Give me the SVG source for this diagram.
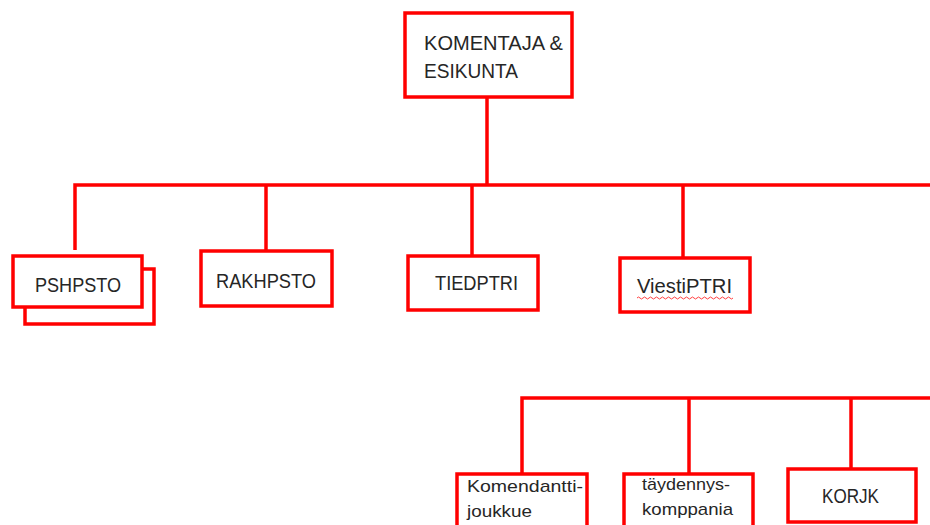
<svg xmlns="http://www.w3.org/2000/svg" width="930" height="525" viewBox="0 0 930 525">
  <style>
    .box { fill: #ffffff; stroke: #ff0000; stroke-width: 3.5; }
    .link { fill: none; stroke: #ff0000; stroke-width: 3.5; }
    .lbl { font-family: "Liberation Sans", Arial, sans-serif; fill: #262626; }
    .big { font-size: 21px; }
    .mid { font-size: 19.5px; }
    .small { font-size: 17px; }
    .squiggle { fill: none; stroke: #ff4040; stroke-width: 1; }
  </style>
  <rect width="930" height="525" fill="#ffffff"/>

  <!-- connectors -->
  <g id="connectors">
    <path class="link" d="M487 97 V184"/>
    <path class="link" d="M75 250 V185 H930"/>
    <path class="link" d="M266 184 V251"/>
    <path class="link" d="M472 184 V256"/>
    <path class="link" d="M683 184 V258"/>
    <path class="link" d="M522 474 V398 H930"/>
    <path class="link" d="M689 398 V474"/>
    <path class="link" d="M851 398 V469"/>
  </g>

  <g id="komentaja">
    <rect class="box" x="405" y="13" width="167" height="84"/>
    <text class="lbl big" x="424" y="50" textLength="139" lengthAdjust="spacingAndGlyphs">KOMENTAJA &amp;</text>
    <text class="lbl big" x="424" y="78" textLength="94" lengthAdjust="spacingAndGlyphs">ESIKUNTA</text>
  </g>

  <g id="pshpsto">
    <rect class="box" x="25" y="269" width="129" height="55"/>
    <rect class="box" x="13" y="256" width="129" height="51"/>
    <text class="lbl mid" x="35" y="292" textLength="86" lengthAdjust="spacingAndGlyphs">PSHPSTO</text>
  </g>

  <g id="rakhpsto">
    <rect class="box" x="201" y="251" width="131" height="55"/>
    <text class="lbl mid" x="216" y="288" textLength="100" lengthAdjust="spacingAndGlyphs">RAKHPSTO</text>
  </g>

  <g id="tiedptri">
    <rect class="box" x="408" y="256" width="130" height="54"/>
    <text class="lbl mid" x="435" y="290" textLength="83" lengthAdjust="spacingAndGlyphs">TIEDPTRI</text>
  </g>

  <g id="viestiptri">
    <rect class="box" x="620" y="258" width="130" height="54"/>
    <text class="lbl mid" x="637" y="293" textLength="95" lengthAdjust="spacingAndGlyphs">ViestiPTRI</text>
    <path class="squiggle" d="M637 298 q1.5 -2 3 0 t3 0 t3 0 t3 0 t3 0 t3 0 t3 0 t3 0 t3 0 t3 0 t3 0 t3 0 t3 0 t3 0 t3 0 t3 0 t3 0 t3 0 t3 0 t3 0 t3 0 t3 0 t3 0 t3 0 t3 0 t3 0 t3 0 t3 0 t3 0 t3 0 t3 0 t3 0"/>
  </g>

  <g id="komendanttijoukkue">
    <rect class="box" x="457" y="474" width="130" height="60"/>
    <text class="lbl small" x="467" y="492" textLength="116" lengthAdjust="spacingAndGlyphs">Komendantti-</text>
    <text class="lbl small" x="467" y="517" textLength="65" lengthAdjust="spacingAndGlyphs">joukkue</text>
  </g>

  <g id="taydennyskomppania">
    <rect class="box" x="624" y="474" width="129" height="60"/>
    <text class="lbl small" x="642" y="490" textLength="88" lengthAdjust="spacingAndGlyphs">täydennys-</text>
    <text class="lbl small" x="642" y="515" textLength="91" lengthAdjust="spacingAndGlyphs">komppania</text>
  </g>

  <g id="korjk">
    <rect class="box" x="788" y="469" width="128" height="53"/>
    <text class="lbl mid" x="822" y="503" textLength="57" lengthAdjust="spacingAndGlyphs">KORJK</text>
  </g>
</svg>
